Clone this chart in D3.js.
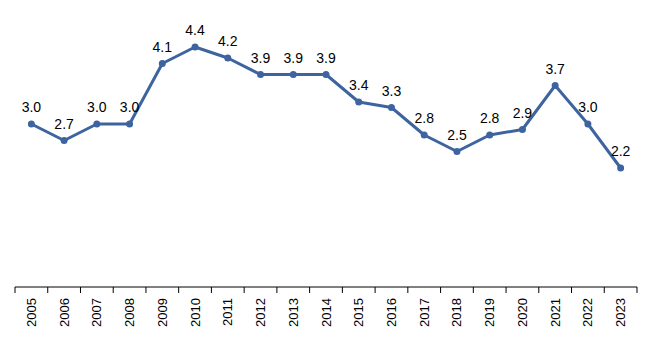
<!DOCTYPE html>
<html><head><meta charset="utf-8">
<script src="https://cdn.jsdelivr.net/npm/d3@7"></script>
<style>body{margin:0;background:#fff}svg{display:block}</style>
</head><body>
<script>
const years = ["2005","2006","2007","2008","2009","2010","2011","2012","2013","2014","2015","2016","2017","2018","2019","2020","2021","2022","2023"];
const values = [3.0,2.7,3.0,3.0,4.1,4.4,4.2,3.9,3.9,3.9,3.4,3.3,2.8,2.5,2.8,2.9,3.7,3.0,2.2];

const W = 657, H = 338;
const svg = d3.select("body").append("svg").attr("width", W).attr("height", H);
const x = d3.scaleBand().domain(years).range([15, 637]);
const y = d3.scaleLinear().domain([0, 5]).range([289, 14]);
const axisY = 287;
const color = "#3E64A0";

const ax = svg.append("g").attr("transform", `translate(0,${axisY})`);
ax.append("line").attr("x1", 15).attr("x2", 637).attr("stroke", "#000").attr("stroke-width", 1);
const bounds = years.map(d => x(d)).concat([x(years[years.length-1]) + x.bandwidth()]);
ax.selectAll("line.tk").data(bounds).join("line").attr("class","tk")
  .attr("x1", d => d).attr("x2", d => d).attr("y1", 0).attr("y2", 6)
  .attr("stroke", "#000").attr("stroke-width", 1);
ax.selectAll("text").data(years).join("text")
  .attr("transform", d => `translate(${x(d) + x.bandwidth()/2 + 4.5},11) rotate(-90)`)
  .attr("text-anchor", "end")
  .attr("font-family", "Arial, 'Liberation Sans', sans-serif")
  .attr("font-size", 13).attr("fill", "#000")
  .text(d => d);

const cx = (d, i) => x(years[i]) + x.bandwidth()/2;
const line = d3.line().x((d, i) => cx(d, i)).y(d => y(d));
svg.append("path").datum(values).attr("d", line)
  .attr("fill", "none").attr("stroke", color).attr("stroke-width", 3).attr("stroke-linejoin", "round");
svg.selectAll("circle").data(values).join("circle")
  .attr("cx", cx).attr("cy", d => y(d)).attr("r", 3.5).attr("fill", color);
svg.selectAll("text.lbl").data(values).join("text").attr("class","lbl")
  .attr("x", cx).attr("y", d => y(d) - 12)
  .attr("text-anchor", "middle")
  .attr("font-family", "Arial, 'Liberation Sans', sans-serif")
  .attr("font-size", 14).attr("fill", "#000")
  .text(d => d.toFixed(1));
</script>
</body></html>
